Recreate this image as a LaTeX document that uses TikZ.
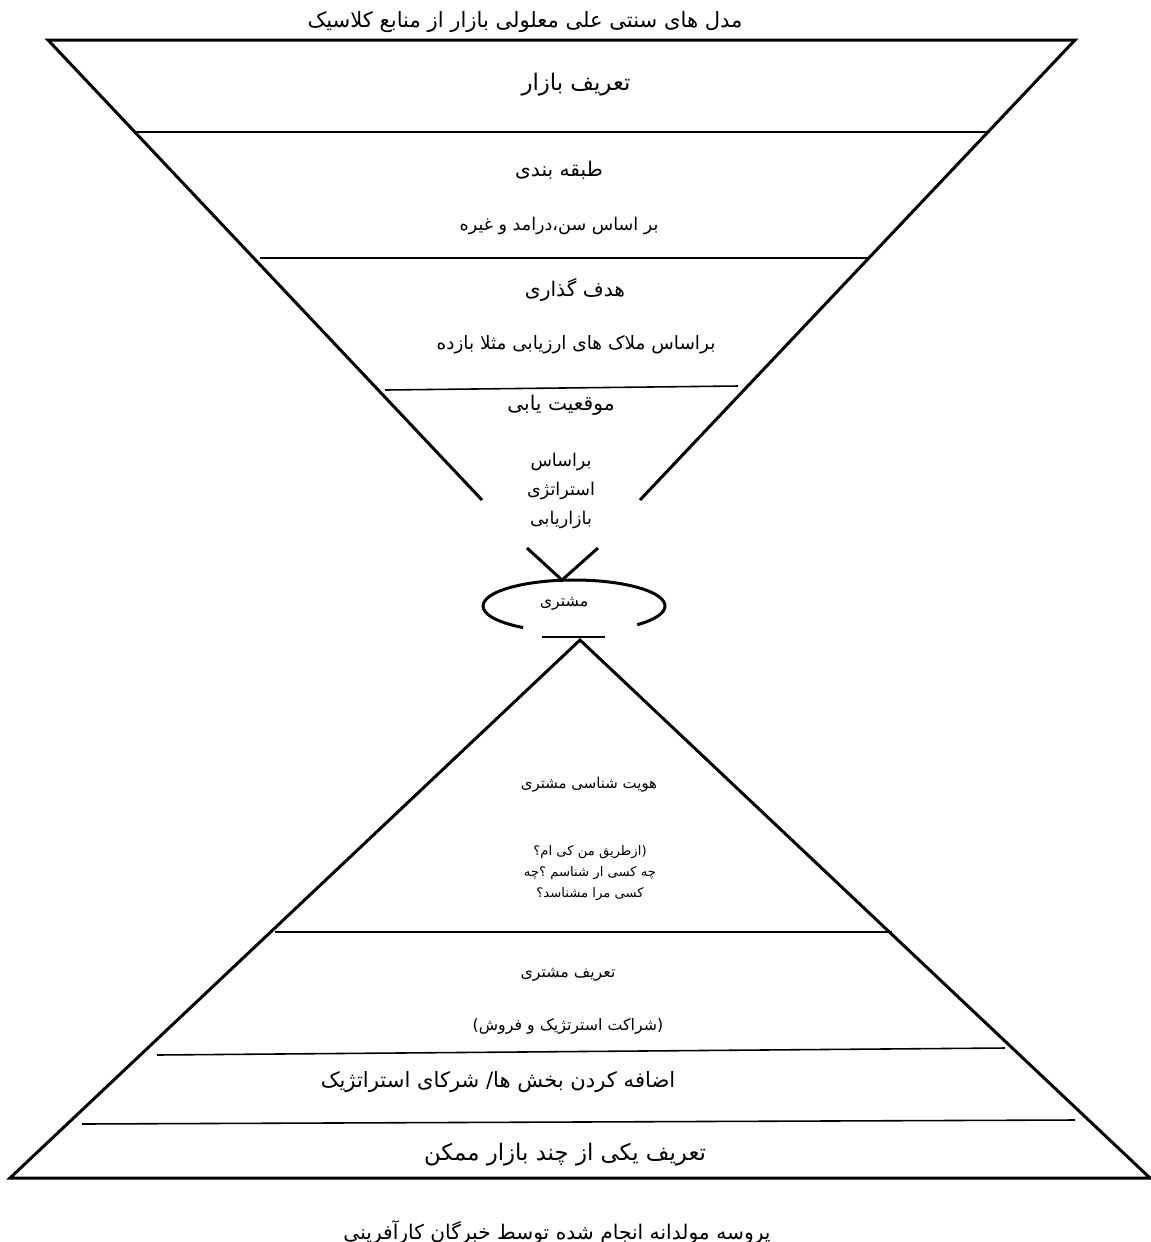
\documentclass[tikz,border=0pt]{standalone}
\usepackage{fontspec}
\newfontfamily\farsifont[Script=Arabic]{DejaVu Sans}
\TeXXeTstate=1

\begin{document}
\begin{tikzpicture}[x=0.02cm, y=-0.02cm]
    \def\rtl#1{\beginR #1\endR}

    \tikzset{
        bigtext/.style={font=\farsifont\fontsize{12.5}{15}\selectfont, inner sep=0pt},
        midtext/.style={font=\farsifont\fontsize{11.5}{14}\selectfont, inner sep=0pt},
        notetext/.style={font=\farsifont\fontsize{10}{16.5}\selectfont, inner sep=0pt, align=center},
        smalltext/.style={font=\farsifont\fontsize{9}{13}\selectfont, inner sep=0pt, align=center},
        sideline/.style={line width=1.7pt},
        divline/.style={line width=0.9pt}
    }

    \useasboundingbox (0,0) rectangle (1151,1242);

    % Upper funnel
    \coordinate (tl) at (48,40);
    \coordinate (tr) at (1075,40);
    \coordinate (bl) at (482,500);
    \coordinate (br) at (640,500);
    \draw[sideline] (bl) -- (tl) -- (tr) -- (br);

    % Upper dividers
    \draw[divline] (135,132) -- (988,132);
    \draw[divline] (260,258) -- (868,258);
    \draw[divline] (385,390) -- (738,386);

    % Neck above the customer
    \coordinate (nl) at (527,548);
    \coordinate (nr) at (598,548);
    \coordinate (nm) at (562,580);
    \draw[sideline] (nl) -- (nm) -- (nr);

    % Customer ellipse (open at the bottom)
    \node[smalltext] (customer) at (564,604) {\rtl{مشتری}};
    \draw[sideline] (574,606) ++(-46:91 and -26) arc[start angle=-46, end angle=236, x radius=91, y radius=-26];
    \draw[divline] (542,637) -- (605,637);

    % Lower pyramid
    \coordinate (apex) at (580,640);
    \coordinate (pl) at (10,1178);
    \coordinate (pr) at (1150,1178);
    \draw[sideline] (apex) -- (pl) -- (pr) -- cycle;

    % Lower dividers
    \draw[divline] (275,932) -- (892,932);
    \draw[divline] (157,1055) -- (1005,1048);
    \draw[divline] (82,1124) -- (1075,1120);

    % Labels, upper funnel
    \node[midtext, font=\farsifont\fontsize{12}{14}\selectfont] (title) at (525,22) {\rtl{مدل های سنتی علی معلولی بازار از منابع کلاسیک}};
    \node[midtext, font=\farsifont\fontsize{13}{15}\selectfont] (market) at (576,85) {\rtl{تعریف بازار}};
    \node[midtext] (segment) at (559,170) {\rtl{طبقه بندی}};
    \node[notetext] (segnote) at (559,226) {\rtl{بر اساس سن،درامد و غیره}};
    \node[midtext] (target) at (575,290) {\rtl{هدف گذاری}};
    \node[notetext, font=\farsifont\fontsize{10.5}{16.5}\selectfont] (tgtnote) at (576,345) {\rtl{براساس ملاک های ارزیابی مثلا بازده}};
    \node[midtext] (position) at (561,405) {\rtl{موقعیت یابی}};
    \node[notetext] (posnote) at (561,491) {\rtl{براساس}\\\rtl{استراتژی}\\\rtl{بازاریابی}};

    % Labels, lower pyramid
    \node[smalltext, font=\farsifont\fontsize{8.5}{13}\selectfont] (identity) at (589,785) {\rtl{هویت شناسی مشتری}};
    \node[smalltext, font=\farsifont\fontsize{7.5}{12}\selectfont] (idnote) at (590,873)
        {\rtl{(ازطریق من کی ام؟}\\\rtl{چه کسی ار شناسم ؟چه}\\\rtl{کسی مرا مشناسد؟}};
    \node[smalltext] (custdef) at (568,975) {\rtl{تعریف مشتری}};
    \node[smalltext] (custnote) at (568,1026) {\rtl{(شراکت استرتژیک و فروش)}};
    \node[bigtext, font=\farsifont\fontsize{12}{15}\selectfont] (partners) at (498,1082) {\rtl{اضافه کردن بخش ها/ شرکای استراتژیک}};
    \node[bigtext, font=\farsifont\fontsize{13}{15}\selectfont] (onemarket) at (565,1155) {\rtl{تعریف یکی از  چند بازار ممکن}};
    \node[midtext] (caption) at (557,1232) {\rtl{پروسه مولدانه انجام شده توسط خبرگان کارآفرینی}};

\end{tikzpicture}
\end{document}
